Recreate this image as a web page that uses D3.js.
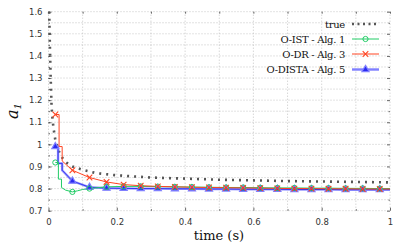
<!DOCTYPE html>
<html><head><meta charset="utf-8">
<script src="https://cdn.jsdelivr.net/npm/d3@7"></script>
<style>body{margin:0;background:#fff}svg{display:block}</style>
</head><body>
<svg id="c" width="407" height="244"></svg>
<script>
// ---- data ----
const xTicks = [0, 0.2, 0.4, 0.6, 0.8, 1];
const xTickLabels = ["0", "0.2", "0.4", "0.6", "0.8", "1"];
const yTicks = [0.7, 0.8, 0.9, 1, 1.1, 1.2, 1.3, 1.4, 1.5, 1.6];
const yTickLabels = ["0.7", "0.8", "0.9", "1", "1.1", "1.2", "1.3", "1.4", "1.5", "1.6"];
const markT = [0.02,0.07,0.12,0.17,0.22,0.27,0.32,0.37,0.42,0.47,0.52,0.57,0.62,0.67,0.72,0.77,0.82,0.87,0.92,0.97];

const trueT = [0.002,0.004,0.006,0.009,0.012,0.015,0.02,0.03,0.04,0.05,0.07,0.1,0.14,0.2,0.3,0.4,0.5,0.6,0.7,0.8,0.9,1.0];
const trueV = [1.6,1.45,1.32,1.17,1.11,1.07,1.02,0.97,0.94,0.92,0.9,0.885,0.87,0.86,0.85,0.845,0.84,0.837,0.834,0.832,0.83,0.828];

const istT = [0.02,0.029,0.029,0.038,0.038,0.05,0.07,0.085,0.1,0.12,0.17,0.22,0.27,0.32,0.37,0.42,0.47,0.52,0.57,0.62,0.67,0.72,0.77,0.82,0.87,0.92,0.97,1.0];
const istV = [0.918,0.918,0.843,0.843,0.805,0.793,0.785,0.79,0.796,0.80,0.808,0.81,0.81,0.809,0.808,0.807,0.806,0.805,0.805,0.804,0.803,0.803,0.802,0.802,0.801,0.801,0.80,0.80];

const drT = [0.02,0.031,0.031,0.04,0.04,0.07,0.12,0.17,0.22,0.27,0.32,0.37,0.42,0.47,0.52,0.57,0.62,0.67,0.72,0.77,0.82,0.87,0.92,0.97,1.0];
const drV = [1.135,1.135,0.99,0.99,0.925,0.883,0.85,0.83,0.818,0.813,0.81,0.808,0.806,0.805,0.804,0.803,0.802,0.801,0.80,0.80,0.799,0.799,0.798,0.798,0.798];

const distaT = [0.02,0.028,0.028,0.04,0.04,0.07,0.12,0.17,0.22,0.27,0.32,0.37,0.42,0.47,0.52,0.57,0.62,0.67,0.72,0.77,0.82,0.87,0.92,0.97,1.0];
const distaV = [0.99,0.99,0.914,0.914,0.883,0.834,0.806,0.802,0.801,0.80,0.80,0.799,0.799,0.798,0.798,0.797,0.797,0.797,0.796,0.796,0.796,0.795,0.795,0.795,0.795];

const legendLabels = ["true", "O-IST - Alg. 1", "O-DR - Alg. 3", "O-DISTA - Alg. 5"];

// ---- layout ----
const svg = d3.select("#c");
const L = 48.5, R = 390, T = 11.7, B = 210.7;
const x = d3.scaleLinear().domain([0, 1]).range([L, R]);
const y = d3.scaleLinear().domain([0.7, 1.6]).range([B, T]);
const SERIF = "DejaVu Serif";

const grid = svg.append("g").attr("stroke", "#b8b8b8").attr("stroke-width", 0.8).attr("stroke-dasharray", "1,2");
d3.range(0, 1.0001, 0.1).forEach(v => grid.append("line").attr("x1", x(v)).attr("x2", x(v)).attr("y1", T).attr("y2", B));
d3.range(0.7, 1.6001, 0.05).forEach(v => grid.append("line").attr("x1", L).attr("x2", R).attr("y1", y(v)).attr("y2", y(v)));

// axes with inward ticks
const minorY = d3.range(0.7, 1.6001, 0.05);
const gl = svg.append("g").attr("transform", `translate(${L},0)`)
  .call(d3.axisLeft(y).tickValues(yTicks).tickFormat((d, i) => yTickLabels[i]).tickSize(-3).tickPadding(6));
const gr = svg.append("g").attr("transform", `translate(${R},0)`)
  .call(d3.axisRight(y).tickValues(minorY).tickFormat("").tickSize(-2));
gr.selectAll(".tick line").attr("x2", (d) => Math.abs((d * 10) % 1) < 0.01 || Math.abs((d * 10) % 1) > 0.99 ? -3 : -1.5);
const glm = svg.append("g").attr("transform", `translate(${L},0)`)
  .call(d3.axisLeft(y).tickValues(minorY).tickFormat("").tickSize(-1.5));
const gb = svg.append("g").attr("transform", `translate(0,${B})`)
  .call(d3.axisBottom(x).tickValues(xTicks).tickFormat((d, i) => xTickLabels[i]).tickSize(-3).tickPadding(8));
const gbm = svg.append("g").attr("transform", `translate(0,${B})`)
  .call(d3.axisBottom(x).tickValues(d3.range(0.1, 1, 0.2)).tickFormat("").tickSize(-1.5));
const gt = svg.append("g").attr("transform", `translate(0,${T})`)
  .call(d3.axisTop(x).tickValues(d3.range(0, 1.0001, 0.1)).tickFormat("").tickSize(-2));
[gl, gr, glm, gb, gbm, gt].forEach(g => {
  g.select(".domain").remove();
  g.selectAll(".tick line").attr("stroke", "#444").attr("stroke-width", 0.8);
  g.selectAll("text").attr("font-family", "DejaVu Sans, sans-serif").attr("font-size", 8.5).attr("fill", "#333");
});

// ---- series ----
const line = d3.line().x(d => x(d[0])).y(d => y(d[1]));
const zip = (a, b) => a.map((t, i) => [t, b[i]]);
const trueD = zip(trueT, trueV), istD = zip(istT, istV), drD = zip(drT, drV), distaD = zip(distaT, distaV);
const isMark = t => markT.some(m => Math.abs(m - t) < 1e-9);

const cGreen = "#22cc66", cRed = "#ff4422", cBlue = "#2a2af0", cBlueL = "#7f7fff";

svg.append("path").attr("d", line(trueD)).attr("fill", "none").attr("stroke", "#555")
  .attr("stroke-width", 2.6).attr("stroke-dasharray", "2,5");

svg.append("path").attr("d", line(distaD)).attr("fill", "none").attr("stroke", cBlueL).attr("stroke-width", 2.4).attr("opacity", 0.8);
svg.append("path").attr("d", line(distaD)).attr("fill", "none").attr("stroke", cBlue).attr("stroke-width", 0.9);
svg.append("path").attr("d", line(istD)).attr("fill", "none").attr("stroke", cGreen).attr("stroke-width", 1);
svg.append("path").attr("d", line(drD)).attr("fill", "none").attr("stroke", cRed).attr("stroke-width", 1);

const tri = d3.symbol().type(d3.symbolTriangle).size(22);
function circ(g, px, py) { g.append("circle").attr("cx", px).attr("cy", py).attr("r", 2.6).attr("fill", "none").attr("stroke", cGreen).attr("stroke-width", 1); }
function cross(g, px, py) { g.append("path").attr("d", `M${px-2.8},${py-2.8}L${px+2.8},${py+2.8}M${px-2.8},${py+2.8}L${px+2.8},${py-2.8}`).attr("stroke", cRed).attr("stroke-width", 1.1); }
function triM(g, px, py) { g.append("path").attr("d", tri()).attr("transform", `translate(${px},${py})`).attr("fill", cBlue).attr("stroke", cBlueL).attr("stroke-width", 1.2); }

const mk = svg.append("g");
distaD.filter(d => isMark(d[0])).forEach(d => triM(mk, x(d[0]), y(d[1])));
istD.filter(d => isMark(d[0])).forEach(d => circ(mk, x(d[0]), y(d[1])));
drD.filter(d => isMark(d[0])).forEach(d => cross(mk, x(d[0]), y(d[1])));

// ---- legend ----
const lg = svg.append("g");
const rowsY = [24, 39, 54, 69.5];
const lx1 = 352, lx2 = 379, lmx = (lx1 + lx2) / 2;
legendLabels.forEach((s, i) => {
  lg.append("text").attr("font-family", SERIF).attr("x", 345).attr("y", rowsY[i]).attr("dy", "0.35em").attr("text-anchor", "end")
    .attr("font-size", 10).attr("letter-spacing", -0.3).attr("fill", "#111").text(s);
});
lg.append("line").attr("x1", lx1).attr("x2", lx2).attr("y1", rowsY[0]).attr("y2", rowsY[0]).attr("stroke", "#555").attr("stroke-width", 2.6).attr("stroke-dasharray", "2,3.5");
lg.append("line").attr("x1", lx1).attr("x2", lx2).attr("y1", rowsY[1]).attr("y2", rowsY[1]).attr("stroke", cGreen).attr("stroke-width", 1);
circ(lg, lmx, rowsY[1]);
lg.append("line").attr("x1", lx1).attr("x2", lx2).attr("y1", rowsY[2]).attr("y2", rowsY[2]).attr("stroke", cRed).attr("stroke-width", 1);
cross(lg, lmx, rowsY[2]);
lg.append("line").attr("x1", lx1).attr("x2", lx2).attr("y1", rowsY[3]).attr("y2", rowsY[3]).attr("stroke", cBlueL).attr("stroke-width", 2.4);
triM(lg, lmx, rowsY[3]);

// ---- axis titles ----
svg.append("text").attr("font-family", SERIF).attr("x", 219).attr("y", 240).attr("text-anchor", "middle")
  .attr("font-size", 13).attr("fill", "#111").text("time (s)");
const yl = svg.append("text").attr("font-family", SERIF).attr("transform", "translate(18,111) rotate(-90)").attr("text-anchor", "middle")
  .attr("font-style", "italic").attr("font-size", 16).attr("fill", "#111");
yl.append("tspan").text("a");
yl.append("tspan").attr("font-size", 10).attr("dy", 3).text("1");
</script>
</body></html>
